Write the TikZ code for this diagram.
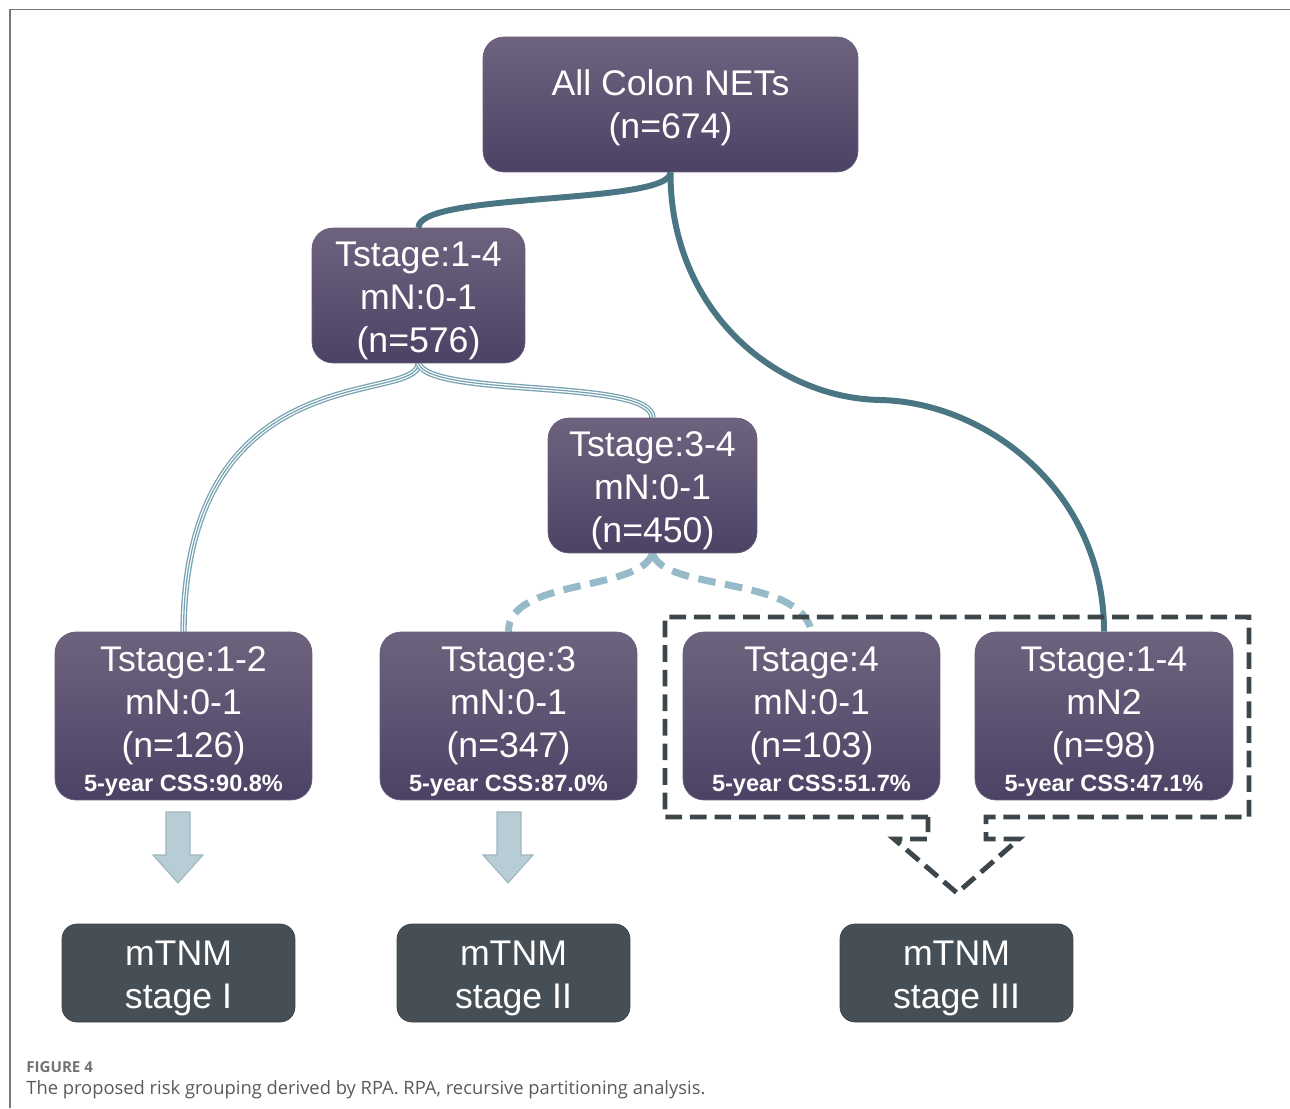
\documentclass[tikz,border=0pt]{standalone}
\usepackage{fontspec}
\setmainfont{Liberation Sans}
\newfontfamily\capfont{Open Sans}
\usetikzlibrary{backgrounds}
\definecolor{ptop}{RGB}{110,99,126}
\definecolor{pbot}{RGB}{76,66,101}
\definecolor{slatebox}{RGB}{70,79,85}
\definecolor{tealdk}{RGB}{74,117,130}
\definecolor{teallt}{RGB}{118,162,178}
\definecolor{dashblue}{RGB}{150,186,200}
\definecolor{arrowfill}{RGB}{184,204,214}
\definecolor{arrowline}{RGB}{160,181,192}
\definecolor{framedk}{RGB}{60,70,75}
\definecolor{rulegray}{RGB}{120,120,120}
\definecolor{capgray}{RGB}{90,90,90}
\tikzset{
  pbox/.style={rounded corners=0.42cm, top color=ptop, bottom color=pbot,
    draw=pbot!85!white, line width=0.4pt, text=white, align=center, inner sep=0pt,
    font=\fontsize{20.3}{24.4}\selectfont},
  sbox/.style={rounded corners=0.3cm, fill=slatebox, draw=slatebox!85!black, line width=0.4pt,
    text=white, align=center, inner sep=0pt, minimum width=4.66cm, minimum height=1.96cm,
    font=\fontsize{20.3}{24.4}\selectfont},
  thickline/.style={draw=tealdk, line width=3.4pt},
  tripleline/.style={preaction={draw=teallt, line width=3.6pt}, draw=white, line width=2.1pt,
    postaction={draw=teallt, line width=0.7pt}},
  dashline/.style={draw=dashblue, line width=4pt, dash pattern=on 10pt off 5.5pt},
  dashframe/.style={draw=framedk, line width=2.8pt, dash pattern=on 9.5pt off 4.5pt},
  blockarrow/.style={fill=arrowfill, draw=arrowline, line width=0.6pt},
}
\newcommand{\css}[1]{\fontsize{13.4}{15}\bfseries 5-year CSS:#1}
\newcommand{\tstrut}{\rule{0pt}{20.5pt}}
\begin{document}
\begin{tikzpicture}[x=0.02cm, y=-0.02cm]
\useasboundingbox (0,0) rectangle (1290,1108);
% frame rules
\draw[rulegray, line width=0.9pt] (10,1108) -- (10,9.5) -- (1290,9.5);

% nodes
\node[pbox, minimum width=7.5cm, minimum height=2.7cm] (root) at (670.5,104.5) {\rule{0pt}{18pt}All Colon NETs\\(n=674)};
\node[pbox, minimum width=4.26cm, minimum height=2.7cm] (n1) at (418.5,295.5) {\tstrut Tstage:1-4\\mN:0-1\\(n=576)};
\node[pbox, minimum width=4.18cm, minimum height=2.7cm] (n2) at (652.5,485.5) {\tstrut Tstage:3-4\\mN:0-1\\(n=450)};
\node[pbox, minimum width=5.14cm, minimum height=3.36cm] (l1) at (183.5,716) {\tstrut Tstage:1-2\\mN:0-1\\(n=126)\\[-5pt]\css{90.8\%}};
\node[pbox, minimum width=5.14cm, minimum height=3.36cm] (l2) at (508.5,716) {\tstrut Tstage:3\\mN:0-1\\(n=347)\\[-5pt]\css{87.0\%}};
\node[pbox, minimum width=5.14cm, minimum height=3.36cm] (l3) at (811.5,716) {\tstrut Tstage:4\\mN:0-1\\(n=103)\\[-5pt]\css{51.7\%}};
\node[pbox, minimum width=5.16cm, minimum height=3.36cm] (l4) at (1104,716) {\tstrut Tstage:1-4\\mN2\\(n=98)\\[-5pt]\css{47.1\%}};
\node[sbox] (s1) at (178.5,973) {\tstrut mTNM\\stage I};
\node[sbox] (s2) at (513.5,973) {\tstrut mTNM\\stage II};
\node[sbox] (s3) at (956.5,973) {\tstrut mTNM\\stage III};

% connectors
\begin{pgfonlayer}{background}
\draw[thickline] (root.south) .. controls (670,205) and (418,192) .. (n1.north);
\draw[thickline] (root.south) .. controls (670,310) and (775,398) .. (880,400)
  .. controls (985,402) and (1104,490) .. (l4.north);
\path[tripleline] (n1.south) .. controls (418,405) and (185,352) .. (l1.north);
\path[tripleline] (n1.south) .. controls (430,398) and (652,378) .. (n2.north);
\draw[dashline] (n2.south) .. controls (640,592) and (508,578) .. (l2.north);
\draw[dashline] (n2.south) .. controls (664,592) and (800,575) .. (l3.north);
\end{pgfonlayer}

% dashed grouping frame with arrow
\draw[dashframe] (928,817) -- (665,817) -- (665,617) -- (1249,617) -- (1249,817) -- (986,817)
  -- (986,839) -- (1019,839) -- (957,893) -- (894,839) -- (928,839) -- cycle;

% block arrows
\draw[blockarrow] (166,812) -- (190,812) -- (190,855) -- (203,855) -- (178,883) -- (153,855) -- (166,855) -- cycle;
\draw[blockarrow] (497,812) -- (521,812) -- (521,855) -- (533,855) -- (508,883) -- (483,855) -- (497,855) -- cycle;

% caption
\node[anchor=base west, inner sep=0pt, text=capgray!85!white, font=\capfont\fontsize{8.6}{10}\selectfont\bfseries] (figlabel) at (26,1072) {FIGURE 4};
\node[anchor=base west, inner sep=0pt, text=capgray, font=\capfont\fontsize{10.45}{12}\selectfont] (caption) at (26,1094) {The proposed risk grouping derived by RPA. RPA, recursive partitioning analysis.};
\end{tikzpicture}
\end{document}
